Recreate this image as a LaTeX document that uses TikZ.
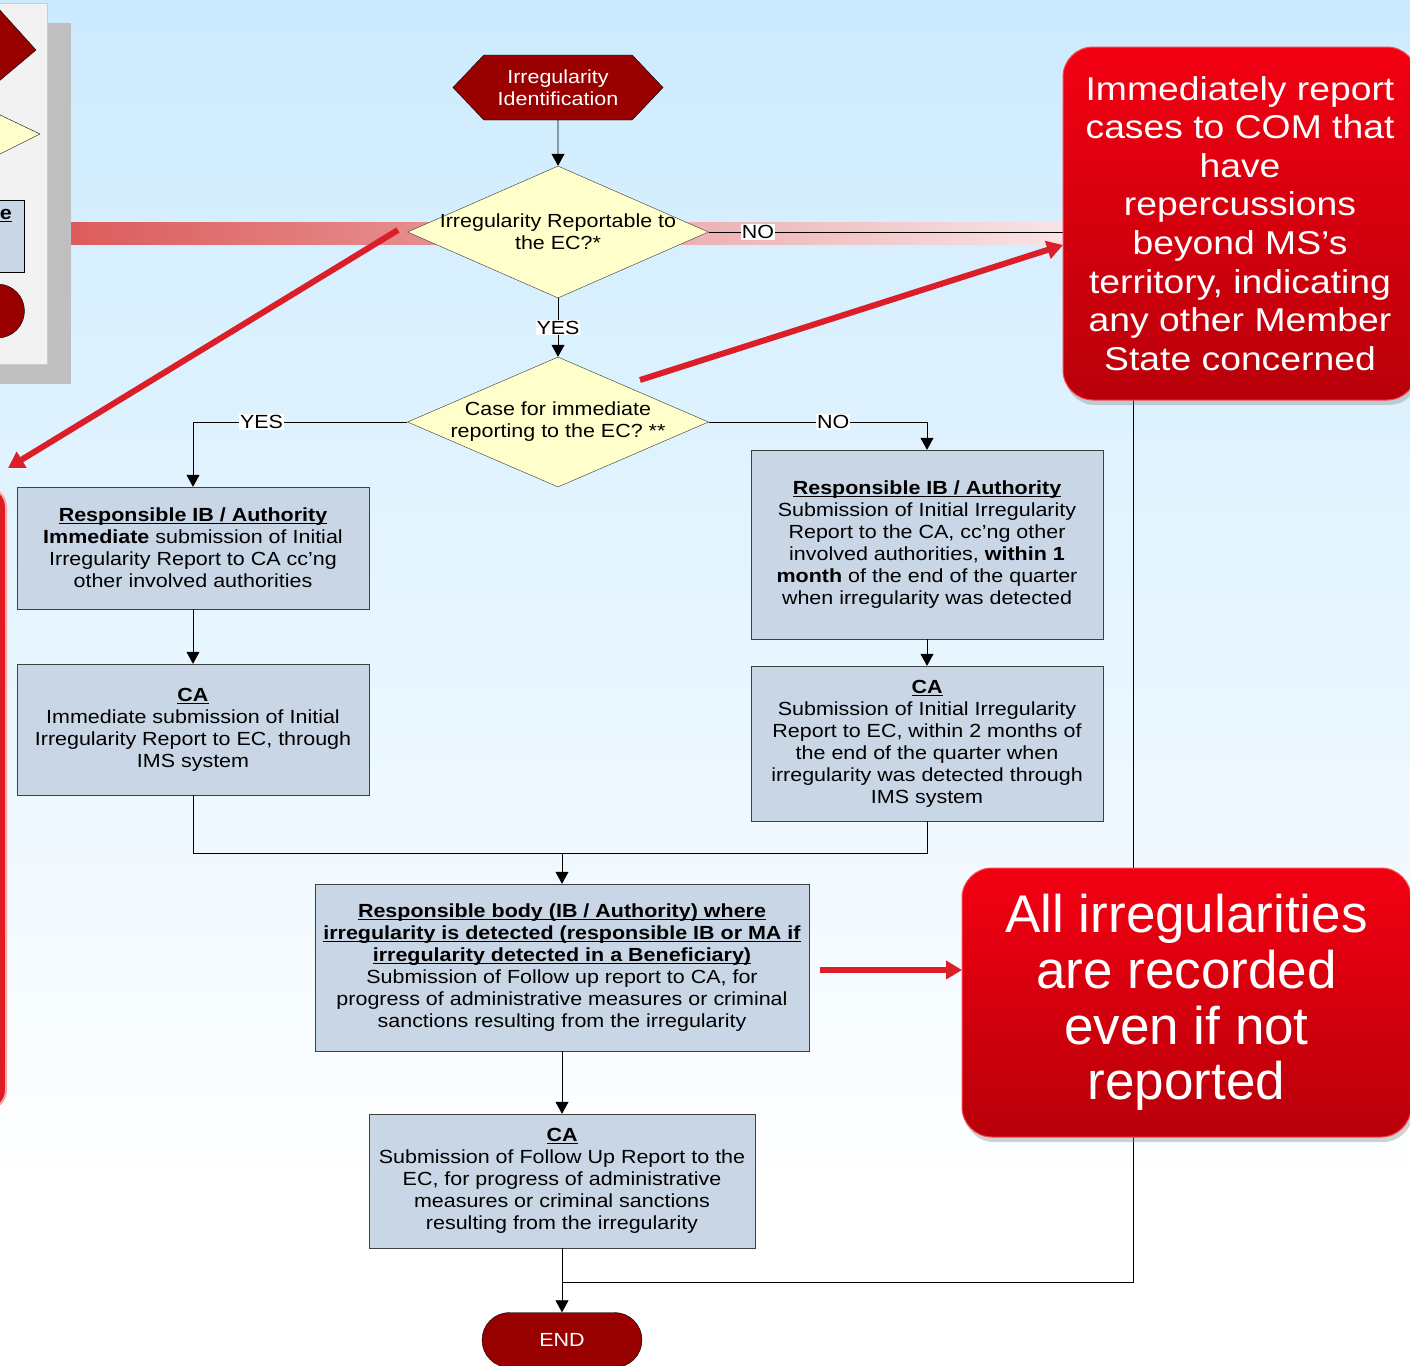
\documentclass[tikz,border=0pt]{standalone}
\usepackage{fontspec}
\setmainfont[FakeStretch=1.13]{Liberation Sans}
\newfontfamily\calloutfont{Liberation Sans}
\usetikzlibrary{arrows.meta,shapes.geometric,shapes.misc,shapes.symbols,shadows}
\tikzset{>={Triangle[width=13pt,length=12pt]}}
\definecolor{bgtop}{RGB}{204,235,254}
\definecolor{hexred}{RGB}{153,0,0}
\definecolor{qyellow}{RGB}{255,255,204}
\definecolor{boxfill}{RGB}{200,214,230}
\definecolor{boxline}{RGB}{64,64,64}
\definecolor{arrowred}{RGB}{220,30,40}
\definecolor{calltop}{RGB}{243,0,18}
\definecolor{callbot}{RGB}{184,0,10}
\definecolor{callrim}{RGB}{255,70,80}
\definecolor{bandleft}{RGB}{220,92,92}
\definecolor{bandright}{RGB}{248,228,230}
\newcommand{\boxfont}{\fontsize{19}{22}\selectfont}
\newsavebox{\headbox}
\newcommand{\headline}[1]{\sbox{\headbox}{\textbf{#1}}%
  \rlap{\rule[-2.6pt]{\wd\headbox}{1.1pt}}\usebox{\headbox}}

\tikzset{
  procbox/.style={rectangle, draw=boxline, fill=boxfill, align=center,
    inner sep=0pt, font=\boxfont},
  decision/.style={diamond, draw=black!80, fill=qyellow, inner sep=0pt},
  terminal/.style={fill=hexred, draw=black, text=white, align=center,
    inner sep=0pt, font=\boxfont},
  yesno/.style={fill=white, inner sep=1pt, font=\boxfont},
  flow/.style={->, draw=black, line width=0.8pt},
  redarrow/.style={-{Triangle[width=18pt,length=16pt]}, arrowred, line width=6pt},
  callout/.style={rectangle, rounded corners=30pt, top color=calltop,
    bottom color=callbot, draw=callrim, line width=1pt, text=white,
    align=center, inner sep=0pt,
    drop shadow={opacity=0.35, shadow xshift=2pt, shadow yshift=-5pt}},
}

\begin{document}
\begin{tikzpicture}[x=1pt,y=-1pt]
  \useasboundingbox (0,0) rectangle (1410,1365);
  \clip (0,0) rectangle (1410,1365);

  % BACKGROUND
  \fill[white] (0,0) rectangle (1410,1365);
  \fill[top color=bgtop, bottom color=white] (0,0) rectangle (1410,1200);

  % LEGEND (cut off at the left)
  \fill[black!25] (0,23) rectangle (71,384);
  \filldraw[fill=black!5, draw=black!20] (-2,3) rectangle (47,364);
  \filldraw[fill=hexred, draw=black] (-2,8) -- (36,50) -- (-2,82) -- cycle;
  \filldraw[fill=qyellow, draw=black] (-2,114) -- (40,134) -- (-2,155) -- cycle;
  \filldraw[fill=boxfill, draw=black] (-2,200) rectangle (24.5,272);
  \node[anchor=base east, inner sep=0pt, font=\boxfont] (legendtxt)
    at (12,219) {\headline{e}};
  \filldraw[fill=hexred, draw=black] (-2.5,311) circle (27pt);

  % LEFT NOTE (cut off)
  \filldraw[fill=arrowred!90!red, draw=red!35!white, line width=2pt,
    rounded corners=20pt] (-300,487) rectangle (6,1110);

  % REPORTABLE BAND
  \fill[left color=bandleft, right color=bandright] (71,222) rectangle (1063,244);

  % FLOW NODES
  \node[terminal, signal, signal to=west and east, signal pointer angle=93,
    minimum width=210pt, minimum height=65pt] (ident) at (558,87.5)
    {Irregularity\\Identification};
  \node[decision, minimum width=301pt, minimum height=132pt,
    label={[align=center, font=\boxfont]center:{Irregularity Reportable to\\the EC?*}}]
    (reportable) at (558,232) {};
  \node[decision, minimum width=301pt, minimum height=130pt,
    label={[align=center, font=\boxfont]center:{Case for immediate\\reporting to the EC? **}}]
    (immediate) at (558,422) {};

  \node[procbox, minimum width=352pt, minimum height=122pt] (ibnow) at (193,548)
    {\headline{Responsible IB / Authority}\\
     \textbf{Immediate} submission of Initial\\
     Irregularity Report to CA cc’ng\\
     other involved authorities};
  \node[procbox, minimum width=352pt, minimum height=131pt] (canow) at (193,729.5)
    {\headline{CA}\\
     Immediate submission of Initial\\
     Irregularity Report to EC, through\\
     IMS system};
  \node[procbox, minimum width=352pt, minimum height=189pt] (ibqtr) at (927,544.5)
    {\headline{Responsible IB / Authority}\\
     Submission of Initial Irregularity\\
     Report to the CA, cc’ng other\\
     involved authorities, \textbf{within 1}\\
     \textbf{month} of the end of the quarter\\
     when irregularity was detected};
  \node[procbox, minimum width=352pt, minimum height=155pt] (caqtr) at (927,743.5)
    {\headline{CA}\\
     Submission of Initial Irregularity\\
     Report to EC, within 2 months of\\
     the end of the quarter when\\
     irregularity was detected through\\
     IMS system};
  \node[procbox, minimum width=494pt, minimum height=167pt] (followib) at (562,967.5)
    {\headline{Responsible body (IB / Authority) where}\\
     \headline{irregularity is detected (responsible IB or MA if}\\
     \headline{irregularity detected in a Beneficiary)}\\
     Submission of Follow up report to CA, for\\
     progress of administrative measures or criminal\\
     sanctions resulting from the irregularity};
  \node[procbox, minimum width=386pt, minimum height=134pt] (followca) at (562,1181)
    {\headline{CA}\\
     Submission of Follow Up Report to the\\
     EC, for progress of administrative\\
     measures or criminal sanctions\\
     resulting from the irregularity};
  \node[terminal, rounded rectangle, minimum width=160pt, minimum height=55pt]
    (finish) at (562,1340) {END};

  % CONNECTORS
  \coordinate (merge) at (562,853);
  \coordinate (noturn) at (1133,232);
  \coordinate (nojoin) at (562,1282);
  \draw[flow] (ident) -- (reportable);
  \draw[flow] (reportable) -- node[yesno] {YES} (immediate);
  \draw[flow] (immediate.west) -| node[yesno, pos=0.34] {YES} (ibnow.north);
  \draw[flow] (immediate.east) -| node[yesno, pos=0.285] {NO} (ibqtr.north);
  \draw[flow] (ibnow) -- (canow);
  \draw[flow] (ibqtr) -- (caqtr);
  \draw[line width=0.8pt] (canow.south) |- (merge) -| (caqtr.south);
  \draw[flow] (merge) -- (followib);
  \draw[flow] (followib) -- (followca);
  \draw[flow] (followca) -- (finish);
  \draw[line width=0.8pt] (reportable.east) -- node[yesno, pos=0.116] {NO} (noturn)
    |- (nojoin);

  % RED POINTERS
  \coordinate (ptrA) at (398,230);
  \coordinate (ptrAend) at (8,468);
  \coordinate (ptrB) at (640,380);
  \coordinate (ptrBend) at (1063,245);
  \coordinate (ptrC) at (820,970);
  \coordinate (ptrCend) at (962,970);
  \draw[redarrow] (ptrA) -- (ptrAend);
  \draw[redarrow] (ptrB) -- (ptrBend);
  \draw[redarrow] (ptrC) -- (ptrCend);

  % NOTES
  \node[callout, minimum width=354pt, minimum height=353pt,
    font=\fontsize{33}{38.6}\selectfont] (comnote) at (1240,223.5)
    {Immediately report\\cases to COM that\\have\\repercussions\\beyond MS’s\\
     territory, indicating\\any other Member\\State concerned};
  \node[callout, minimum width=449pt, minimum height=269pt,
    font=\calloutfont\fontsize{53}{55.7}\selectfont] (recnote) at (1186.5,1002.5)
    {All irregularities\\are recorded\\even if not\\reported};
\end{tikzpicture}
\end{document}
